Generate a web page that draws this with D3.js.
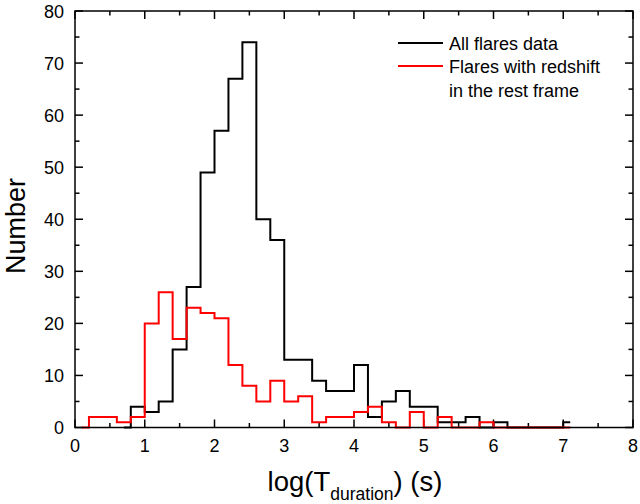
<!DOCTYPE html>
<html>
<head>
<meta charset="utf-8">
<script src="https://cdn.jsdelivr.net/npm/d3@7"></script>
<style>
  body { margin: 0; background: #fff; }
  text { font-family: "Liberation Sans", Arial, sans-serif; fill: #000; }
</style>
</head>
<body>
<svg id="chart" width="640" height="504"></svg>
<script>
// bin centres (log T, bin width 0.2) and counts
var allX = [0.7, 0.9, 1.1, 1.3, 1.5, 1.7, 1.9, 2.1, 2.3, 2.5, 2.7, 2.9, 3.1, 3.3, 3.5, 3.7, 3.9,
            4.1, 4.3, 4.5, 4.7, 4.9, 5.1, 5.3, 5.5, 5.7, 5.9, 6.1, 6.3, 6.5, 6.7, 6.9, 7.1];
var allN = [0, 4, 3, 5, 15, 27, 49, 57, 67, 74, 40, 36, 13, 13, 9, 7, 7,
            12, 2, 5, 7, 4, 4, 1, 1, 2, 0, 1, 0, 0, 0, 0, 1];

var zX = [0.1, 0.3, 0.5, 0.7, 0.9, 1.1, 1.3, 1.5, 1.7, 1.9, 2.1, 2.3, 2.5, 2.7, 2.9, 3.1, 3.3, 3.5,
          3.7, 3.9, 4.1, 4.3, 4.5, 4.7, 4.9, 5.1, 5.3, 5.5, 5.7, 5.9, 6.1, 6.3, 6.5, 6.7, 6.9, 7.1];
var zN = [0, 2, 2, 1, 2, 20, 26, 17, 23, 22, 21, 12, 8, 5, 9, 5, 6, 1,
          2, 2, 3, 4, 1, 0, 3, 0, 2, 0, 0, 1, 0, 0, 0, 0, 0, 0];

var xTicks = [0, 1, 2, 3, 4, 5, 6, 7, 8];
var yTicks = [0, 10, 20, 30, 40, 50, 60, 70, 80];
var legendLabels = ["All flares data", "Flares with redshift", "in the rest frame"];

var svg = d3.select('#chart');
var pLeft = 75, pRight = 633, pTop = 11, pBottom = 427.5;

var xScale = d3.scaleLinear().domain([0, 8]).range([pLeft, pRight]);
var yScale = d3.scaleLinear().domain([0, 80]).range([pBottom, pTop]);

var minorX = d3.range(0, 8.01, 0.5);
var minorY = d3.range(0, 80.1, 5);

// ticks, all pointing inwards
function tickLen(v, step) { return Math.abs(v / step - Math.round(v / step)) < 1e-6 ? 8 : 4.5; }

var g = svg.append('g').attr('stroke', '#000').attr('stroke-width', 1.5);
minorX.forEach(function(v) {
  var L = tickLen(v, 1), x = xScale(v);
  g.append('line').attr('x1', x).attr('x2', x).attr('y1', pBottom).attr('y2', pBottom - L);
  g.append('line').attr('x1', x).attr('x2', x).attr('y1', pTop).attr('y2', pTop + L);
});
minorY.forEach(function(v) {
  var L = tickLen(v, 10), y = yScale(v);
  g.append('line').attr('x1', pLeft).attr('x2', pLeft + L).attr('y1', y).attr('y2', y);
  g.append('line').attr('x1', pRight).attr('x2', pRight - L).attr('y1', y).attr('y2', y);
});

// histograms
var line = d3.line().curve(d3.curveStep)
  .x(function(d) { return xScale(d[0]); })
  .y(function(d) { return yScale(d[1]); });

svg.append('path')
  .datum(d3.zip(allX, allN))
  .attr('d', line)
  .attr('fill', 'none').attr('stroke', '#000').attr('stroke-width', 2);

svg.append('path')
  .datum(d3.zip(zX, zN))
  .attr('d', line)
  .attr('fill', 'none').attr('stroke', '#ff0000').attr('stroke-width', 2);

// frame
svg.append('rect')
  .attr('x', pLeft).attr('y', pTop)
  .attr('width', pRight - pLeft).attr('height', pBottom - pTop)
  .attr('fill', 'none').attr('stroke', '#000').attr('stroke-width', 1.5);

// tick labels
svg.selectAll('.xl').data(xTicks).enter().append('text')
  .attr('x', function(d) { return xScale(d); })
  .attr('y', 452)
  .attr('text-anchor', 'middle')
  .style('font-size', '18px')
  .text(function(d) { return d; });

svg.selectAll('.yl').data(yTicks).enter().append('text')
  .attr('x', 64)
  .attr('y', function(d) { return yScale(d) + 6.5; })
  .attr('text-anchor', 'end')
  .style('font-size', '18px')
  .text(function(d) { return d; });

// axis titles
svg.append('text')
  .attr('transform', 'translate(25,226) rotate(-90)')
  .attr('text-anchor', 'middle')
  .style('font-size', '27px')
  .text('Number');

var xt = svg.append('text')
  .attr('x', 355)
  .attr('y', 491)
  .attr('text-anchor', 'middle')
  .style('font-size', '27.5px');
xt.append('tspan').text('log(T');
xt.append('tspan').attr('dy', 8.5).style('font-size', '17.5px').text('duration');
xt.append('tspan').attr('dy', -8.5).text(') (s)');

// legend
var legColors = ['#000', '#ff0000'];
var legY = [43, 66];
legColors.forEach(function(c, i) {
  svg.append('line')
    .attr('x1', 398).attr('x2', 443)
    .attr('y1', legY[i]).attr('y2', legY[i])
    .attr('stroke', c).attr('stroke-width', 2);
});
svg.selectAll('.leg').data(legendLabels).enter().append('text')
  .attr('x', 449)
  .attr('y', function(d, i) { return 49.5 + i * 23.7; })
  .style('font-size', '18px')
  .text(function(d) { return d; });
</script>
</body>
</html>
